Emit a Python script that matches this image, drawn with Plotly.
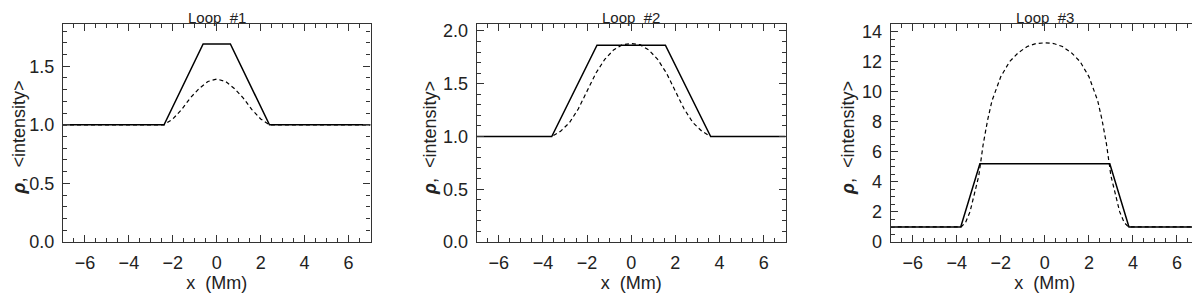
import plotly.graph_objects as go

# Loop #1
x1_solid = [-7, -2.4, -0.62, 0.62, 2.4, 7]
y1_solid = [1.0, 1.0, 1.69, 1.69, 1.0, 1.0]
x1_dash = [-7, -2.4, -2.0, -1.6, -1.2, -0.8, -0.4, 0.0, 0.4, 0.8, 1.2, 1.6, 2.0, 2.4, 7]
y1_dash = [1.0, 1.0, 1.05, 1.13, 1.23, 1.31, 1.37, 1.39, 1.37, 1.31, 1.23, 1.13, 1.05, 1.0, 1.0]

# Loop #2
x2_solid = [-7, -3.6, -1.55, 1.55, 3.6, 7]
y2_solid = [1.0, 1.0, 1.865, 1.865, 1.0, 1.0]
x2_dash = [-7, -3.6, -3.2, -2.8, -2.4, -2.0, -1.6, -1.2, -0.8, -0.4, 0.0,
           0.4, 0.8, 1.2, 1.6, 2.0, 2.4, 2.8, 3.2, 3.6, 7]
y2_dash = [1.0, 1.0, 1.05, 1.13, 1.26, 1.43, 1.60, 1.73, 1.82, 1.87, 1.88,
           1.87, 1.82, 1.73, 1.60, 1.43, 1.26, 1.13, 1.05, 1.0, 1.0]

# Loop #3
x3_solid = [-7, -3.82, -2.95, 2.95, 3.82, 7]
y3_solid = [1.0, 1.0, 5.2, 5.2, 1.0, 1.0]
x3_dash = [-7, -3.8, -3.6, -3.4, -3.2, -3.0, -2.8, -2.6, -2.4, -2.0, -1.6, -1.2, -0.8, -0.4, 0.0,
           0.4, 0.8, 1.2, 1.6, 2.0, 2.4, 2.6, 2.8, 3.0, 3.2, 3.4, 3.6, 3.8, 7]
y3_dash = [1.0, 1.0, 1.3, 2.0, 3.2, 4.4, 6.5, 8.1, 9.4, 11.0, 12.0, 12.6, 13.0, 13.2, 13.25,
           13.2, 13.0, 12.6, 12.0, 11.0, 9.4, 8.1, 6.5, 4.4, 3.2, 2.0, 1.3, 1.0, 1.0]

titles = ["Loop  #1", "Loop  #2", "Loop  #3"]
y_label = "<b><i>ρ</i></b>,  &lt;intensity&gt;"
y_ranges = [[0, 1.86], [0, 2.066], [0, 14.5]]
y_dticks = [0.5, 0.5, 2]
y_minor = [0.1, 0.1, 0.5]
y_formats = [".1f", ".1f", "d"]

W, H = 1200, 293
off = 8  # the page body has an 8px margin, shift the layout back by it
x_doms = [[63 - off, 370.5 - off], [476.7 - off, 785.7 - off], [890.7 - off, 1199 - off]]
y_dom = [(H - 242 + off) / H, (H - 24 + off) / H]
ytitle_x = [18.5 - off, 430 - off, 848 - off]

ink = "#222222"
font = dict(family="Liberation Sans, Arial, sans-serif", size=18, color=ink)
ytitle_font = dict(family="Liberation Sans, Arial, sans-serif", size=18, color=ink)
title_font = dict(family="Liberation Sans, Arial, sans-serif", size=15, color=ink)

fig = go.Figure()
curves = [(x1_solid, y1_solid, x1_dash, y1_dash),
          (x2_solid, y2_solid, x2_dash, y2_dash),
          (x3_solid, y3_solid, x3_dash, y3_dash)]

for i, (xs, ys, xd, yd) in enumerate(curves):
    n = "" if i == 0 else str(i + 1)
    fig.add_trace(go.Scatter(x=xd, y=yd, mode="lines", xaxis="x" + n, yaxis="y" + n,
                             line=dict(color="black", width=1.2, dash="4px,3px")))
    fig.add_trace(go.Scatter(x=xs, y=ys, mode="lines", xaxis="x" + n, yaxis="y" + n,
                             line=dict(color="black", width=1.5)))

    axis_common = dict(showline=True, linecolor="#333333", linewidth=1.2, mirror="allticks",
                       ticks="inside", ticklen=7, tickwidth=1, tickcolor="#333333",
                       showgrid=False, zeroline=False, tickfont=font, automargin=False)
    fig.layout["xaxis" + n] = dict(
        axis_common, domain=[x_doms[i][0] / W, x_doms[i][1] / W], anchor="y" + n,
        range=[-7, 7], dtick=2, tick0=0, ticklabelstandoff=4,
        minor=dict(dtick=0.5, ticks="inside", ticklen=4, tickcolor="#333333"),
        title=dict(text="x  (Mm)", font=font, standoff=1))
    fig.layout["yaxis" + n] = dict(
        axis_common, domain=y_dom, anchor="x" + n, range=y_ranges[i],
        dtick=y_dticks[i], tick0=0, tickformat=y_formats[i], ticklabelstandoff=4,
        minor=dict(dtick=y_minor[i], ticks="inside", ticklen=4, tickcolor="#333333"))
    fig.add_annotation(text=y_label, xref="paper", yref="paper", textangle=-90,
                       x=ytitle_x[i] / W, y=(H - 138 + off) / H,
                       xanchor="center", yanchor="middle", showarrow=False, font=ytitle_font)
    fig.add_annotation(text=titles[i], xref="paper", yref="paper",
                       x=(x_doms[i][0] + x_doms[i][1]) / 2 / W, y=1,
                       xanchor="center", yanchor="top", borderpad=0,
                       showarrow=False, font=title_font)

fig.update_layout(width=W, height=H, margin=dict(l=0, r=0, t=0, b=0),
                  paper_bgcolor="white", plot_bgcolor="white", showlegend=False)

fig.write_html("out.html")
